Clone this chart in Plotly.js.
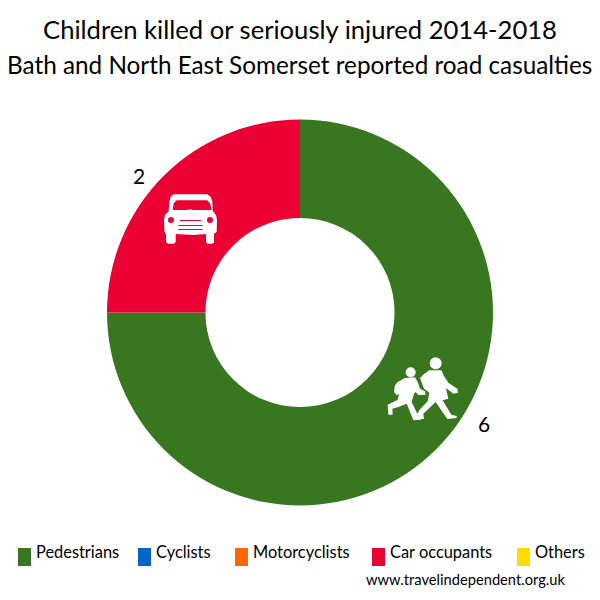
<!DOCTYPE html>
<html>
<head>
<meta charset="utf-8">
<script src="https://cdn.plot.ly/plotly-3.0.1.min.js"></script>
<style>html,body{margin:0;padding:0;background:#fff}#chart{width:600px;height:600px}</style>
</head>
<body>
<div id="chart"></div>
<script>
var categories = ["Pedestrians", "Cyclists", "Motorcyclists", "Car occupants", "Others"];
var casualties = [6, 0, 0, 2, 0];
var colours = ["#38761f", "#0066cc", "#ff6600", "#ea0033", "#ffdd00"];
var titleLine1 = "Children killed or seriously injured 2014-2018";
var titleLine2 = "Bath and North East Somerset reported road casualties";
var creditText = "www.travelindependent.org.uk";

var FONT = "Lato, Carlito, Calibri, sans-serif";
var legendSwatchX = [18, 138, 235, 372, 517];

function px(x) { return x / 600; }
function py(y) { return 1 - y / 600; }
// Decorative pictograms: outlines given in pixels of the 600x600 page, converted to paper units.
function outline(points, ox, oy, s) {
  return points.map(function (p, i) {
    return (i ? "L" : "M") + px(ox + p[0] * s).toFixed(5) + "," + py(oy + p[1] * s).toFixed(5);
  }).join(" ") + " Z";
}
function picto(path, fill) {
  return {type: "path", xref: "paper", yref: "paper", path: path, fillcolor: fill, line: {width: 0}, layer: "above"};
}
function disc(cx, cy, r, fill) {
  return {type: "circle", xref: "paper", yref: "paper", x0: px(cx - r), x1: px(cx + r), y0: py(cy + r), y1: py(cy - r), fillcolor: fill, line: {width: 0}, layer: "above"};
}

var carBody = [[130,103],[232,103],[242,110],[247,125],[248,152],[258,165],[261,180],[260,215],[252,222],[252,248],[246,251],[233,251],[228,246],[228,222],[190,225],[137,222],[137,246],[131,251],[114,251],[108,246],[108,222],[103,215],[102,180],[105,165],[116,154],[118,125],[122,110]];
var carScreen = [[140,121],[232,121],[240,130],[245,150],[190,150],[180,148],[170,150],[128,150],[131,130]];
var grille = [[[150,180],[213,180],[213,183],[150,183]],[[145,195],[218,195],[218,198],[145,198]],[[145,207],[218,207],[218,210],[145,210]]];

var smallChild = [[38,90],[60,78],[90,76],[98,90],[105,110],[120,118],[122,128],[100,129],[92,120],[87,125],[80,150],[97,185],[108,203],[85,205],[65,155],[40,165],[22,170],[23,188],[10,188],[8,158],[25,150],[38,143],[42,125],[35,130],[27,120],[30,100]];
var bigChild = [[28,55],[64,55],[72,72],[85,92],[112,110],[114,122],[100,125],[78,108],[85,140],[68,145],[94,188],[110,192],[110,198],[82,201],[47,150],[10,185],[12,200],[-10,203],[-12,192],[0,172],[23,148],[28,122],[12,110],[0,78],[12,66]];

var shapes = [
  picto(outline(carBody, 130, 160, 1/3), "#ffffff"),
  picto(outline(carScreen, 130, 160, 1/3), colours[3]),
  disc(130 + 123/3, 160 + 180/3, 3, colours[3]),
  disc(130 + 240/3, 160 + 180/3, 3, colours[3]),
  picto(outline(smallChild, 385, 352, 1/3), "#ffffff"),
  disc(385 + 77/3, 352 + 61/3, 5, "#ffffff"),
  picto(outline(bigChild, 420, 352, 1/3), "#ffffff"),
  disc(420 + 47/3, 352 + 34/3, 6, "#ffffff")
];
grille.forEach(function (g) { shapes.push(picto(outline(g, 130, 160, 1/3), colours[3])); });

var annotations = [
  {text: titleLine2, xref: "paper", yref: "paper", x: 0.4995, y: py(64), xanchor: "center", yanchor: "middle", showarrow: false, font: {family: FONT, size: 24.3, color: "#000"}},
  {text: String(casualties[3]), xref: "paper", yref: "paper", x: px(139), y: py(175), xanchor: "center", yanchor: "middle", showarrow: false, font: {family: FONT, size: 21, color: "#000"}},
  {text: String(casualties[0]), xref: "paper", yref: "paper", x: px(484), y: py(423), xanchor: "center", yanchor: "middle", showarrow: false, font: {family: FONT, size: 21, color: "#000"}},
  {text: creditText, xref: "paper", yref: "paper", x: px(364), y: py(579), xanchor: "left", yanchor: "middle", showarrow: false, font: {family: FONT, size: 14.7, color: "#000"}}
];
categories.forEach(function (c, i) {
  shapes.push({type: "rect", xref: "paper", yref: "paper", x0: px(legendSwatchX[i]), x1: px(legendSwatchX[i] + 13), y0: py(566), y1: py(548), fillcolor: colours[i], line: {width: 0}});
  annotations.push({text: c, xref: "paper", yref: "paper", x: px(legendSwatchX[i] + 16), y: py(551), xanchor: "left", yanchor: "middle", showarrow: false, font: {family: FONT, size: 16.4, color: "#000"}});
});

var trace = {
  type: "pie",
  labels: categories,
  values: casualties,
  hole: 0.49,
  sort: false,
  direction: "clockwise",
  rotation: 0,
  textinfo: "none",
  marker: {colors: colours, line: {width: 0}},
  domain: {x: [107/600, 493/600], y: [1 - 505.5/600, 1 - 119.5/600]}
};

var layout = {
  width: 600, height: 600,
  margin: {l: 0, r: 0, t: 0, b: 0},
  paper_bgcolor: "#fff",
  showlegend: false,
  title: {text: titleLine1, x: 0.5, xanchor: "center", y: 1 - 30/600, yanchor: "middle", font: {family: FONT, size: 25.6, color: "#000"}},
  shapes: shapes,
  annotations: annotations
};
Plotly.newPlot("chart", [trace], layout, {displayModeBar: false, staticPlot: true});
</script>
</body>
</html>
